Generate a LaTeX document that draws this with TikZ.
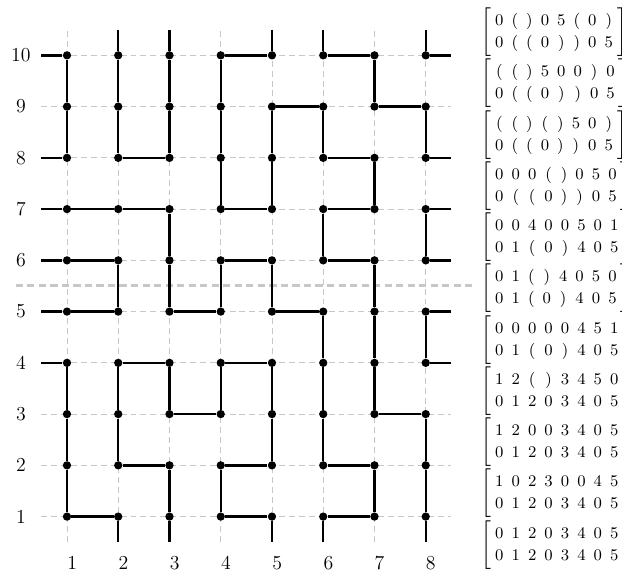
\documentclass[tikz,border=0pt]{standalone}
\usepackage{amsmath}
\setlength{\arraycolsep}{2.25pt}
\renewcommand{\arraystretch}{1.1}
\delimiterfactor=1000
\delimitershortfall=0pt
\newcommand{\statepair}[2]{\left[\vphantom{\rule[-8.75pt]{0pt}{22.5pt}}\smash{\begin{array}{cccccccc}#1\\#2\end{array}}\right]}

\begin{document}
\begin{tikzpicture}[x=1cm,y=1cm,guide/.style={draw=black!22, line width=0.4pt, dash pattern=on 3.3pt off 2.2pt},cut/.style={draw=black!22, line width=1.7pt, dash pattern=on 4pt off 2.4pt},strand/.style={draw=black, line width=1.3pt, line join=round},dot/.style={circle, fill=black, inner sep=0pt, minimum size=4.6pt},lab/.style={font=\fontsize{11}{13}\selectfont},state/.style={anchor=west, inner sep=0pt, font=\small}]
\useasboundingbox (-0.307,-0.055) rectangle (11.83,11.08);
\foreach \i in {1,...,8} {\draw[guide] (\i,0.5) -- (\i,10.5); \node[lab] (col\i) at (\i+0.1,0.1) {\i};}
\foreach \j in {1,...,10} {\draw[guide] (0.5,\j) -- (8.5,\j); \node[lab] (row\j) at (0.1,\j) {\j};}
\draw[cut] (0,5.5) -- (8.9,5.5);
\foreach \i in {1,...,8} {\coordinate (t\i) at (\i,10.5); \coordinate (b\i) at (\i,0.5);}
\foreach \j in {1,...,10} {\coordinate (l\j) at (0.5,\j); \coordinate (r\j) at (8.5,\j);}
\foreach \i in {1,...,8} {\foreach \j in {1,...,10} {\node[dot] (p\i-\j) at (\i,\j) {};}}
\draw[strand] (l10) -- (p1-10) -- (p1-9) -- (p1-8) -- (l8);
\draw[strand] (t2) -- (p2-10) -- (p2-9) -- (p2-8) -- (p3-8) -- (p3-9) -- (p3-10) -- (t3);
\draw[strand] (t5) -- (p5-10) -- (p4-10) -- (p4-9) -- (p4-8) -- (p4-7) -- (p5-7) -- (p5-8) -- (p5-9) -- (p6-9) -- (p6-8) -- (p7-8) -- (p7-7) -- (p6-7) -- (p6-6) -- (p7-6) -- (p7-5) -- (p7-4) -- (p7-3) -- (p8-3) -- (p8-2) -- (p8-1) -- (b8);
\draw[strand] (t6) -- (p6-10) -- (p7-10) -- (p7-9) -- (p8-9) -- (p8-8) -- (r8);
\draw[strand] (t8) -- (p8-10) -- (r10);
\draw[strand] (l7) -- (p1-7) -- (p2-7) -- (p3-7) -- (p3-6) -- (p3-5) -- (p4-5) -- (p4-6) -- (p5-6) -- (p5-5) -- (p6-5) -- (p6-4) -- (p6-3) -- (p6-2) -- (p7-2) -- (p7-1) -- (p6-1) -- (b6);
\draw[strand] (r7) -- (p8-7) -- (p8-6) -- (r6);
\draw[strand] (l6) -- (p1-6) -- (p2-6) -- (p2-5) -- (p1-5) -- (l5);
\draw[strand] (r5) -- (p8-5) -- (p8-4) -- (r4);
\draw[strand] (l4) -- (p1-4) -- (p1-3) -- (p1-2) -- (p1-1) -- (p2-1) -- (b2);
\draw[strand] (b3) -- (p3-1) -- (p3-2) -- (p2-2) -- (p2-3) -- (p2-4) -- (p3-4) -- (p3-3) -- (p4-3) -- (p4-4) -- (p5-4) -- (p5-3) -- (p5-2) -- (p4-2) -- (p4-1) -- (p5-1) -- (b5);
\node[state] (m1) at (9.08,10.45) {$\statepair{0&(&)&0&5&(&0&)}{0&(&(&0&)&)&0&5}$};
\node[state] (m2) at (9.08,9.45) {$\statepair{(&(&)&5&0&0&)&0}{0&(&(&0&)&)&0&5}$};
\node[state] (m3) at (9.08,8.45) {$\statepair{(&(&)&(&)&5&0&)}{0&(&(&0&)&)&0&5}$};
\node[state] (m4) at (9.08,7.45) {$\statepair{0&0&0&(&)&0&5&0}{0&(&(&0&)&)&0&5}$};
\node[state] (m5) at (9.08,6.45) {$\statepair{0&0&4&0&0&5&0&1}{0&1&(&0&)&4&0&5}$};
\node[state] (m6) at (9.08,5.45) {$\statepair{0&1&(&)&4&0&5&0}{0&1&(&0&)&4&0&5}$};
\node[state] (m7) at (9.08,4.45) {$\statepair{0&0&0&0&0&4&5&1}{0&1&(&0&)&4&0&5}$};
\node[state] (m8) at (9.08,3.45) {$\statepair{1&2&(&)&3&4&5&0}{0&1&2&0&3&4&0&5}$};
\node[state] (m9) at (9.08,2.45) {$\statepair{1&2&0&0&3&4&0&5}{0&1&2&0&3&4&0&5}$};
\node[state] (m10) at (9.08,1.45) {$\statepair{1&0&2&3&0&0&4&5}{0&1&2&0&3&4&0&5}$};
\node[state] (m11) at (9.08,0.45) {$\statepair{0&1&2&0&3&4&0&5}{0&1&2&0&3&4&0&5}$};
\end{tikzpicture}
\end{document}
